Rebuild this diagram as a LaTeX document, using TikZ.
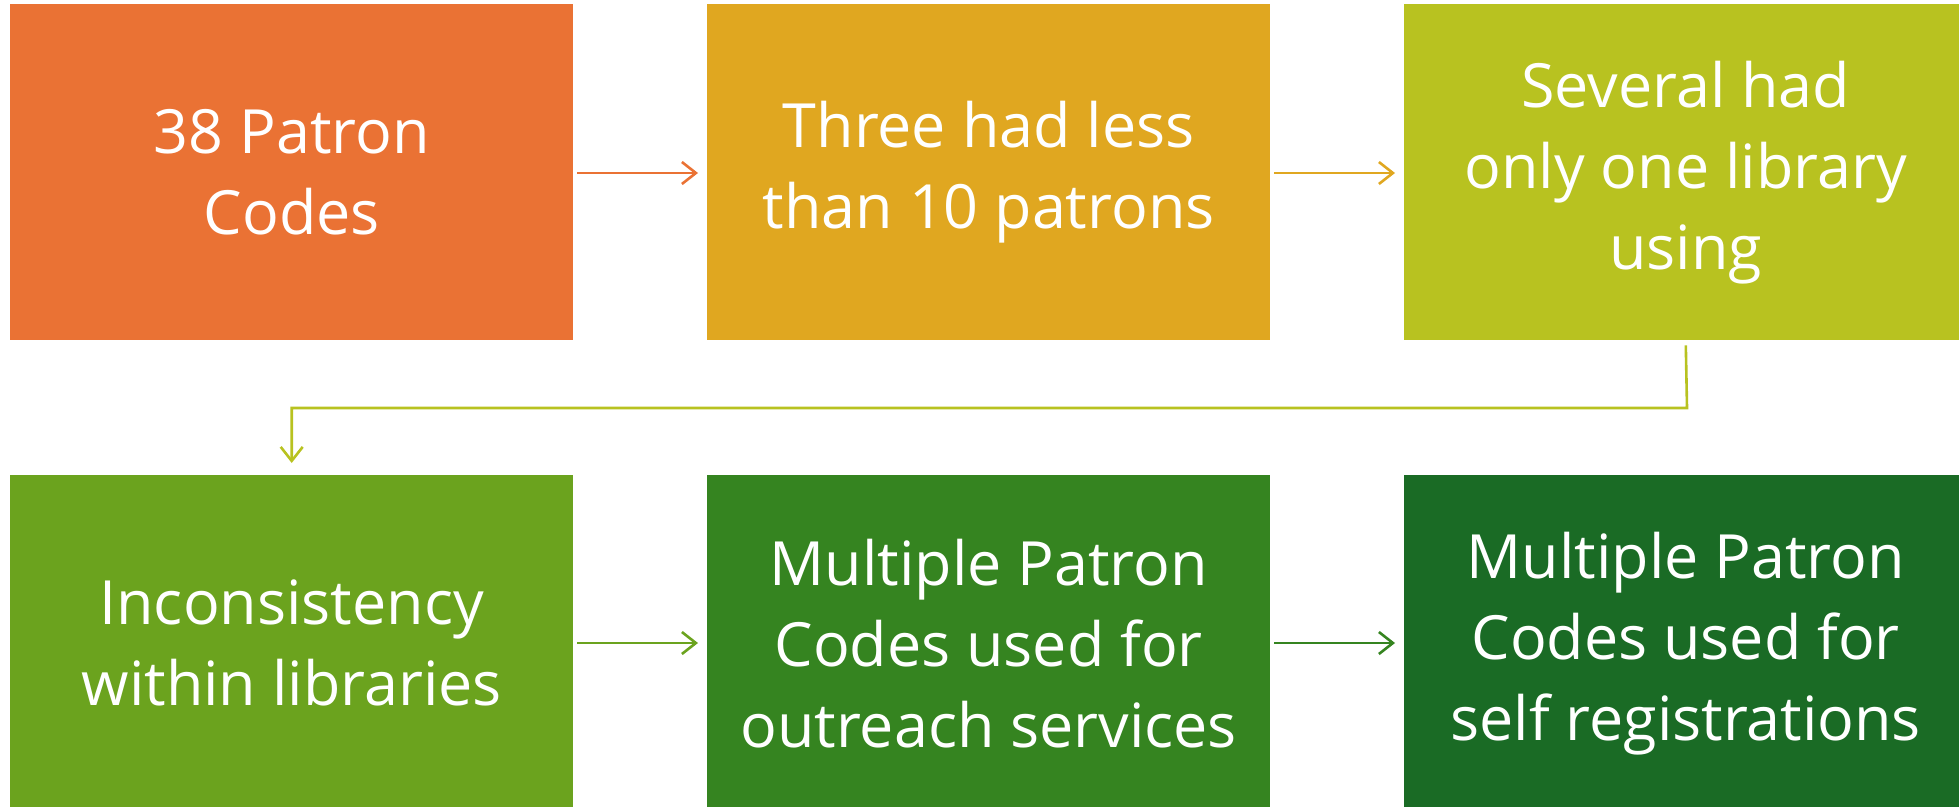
\documentclass[tikz,border=0pt]{standalone}
\usepackage{fontspec}
\setmainfont{Open Sans}
\usetikzlibrary{arrows.meta}
\definecolor{cA}{HTML}{EA7234}
\definecolor{cB}{HTML}{E0A720}
\definecolor{cC}{HTML}{B8C220}
\definecolor{cD}{HTML}{6BA31E}
\definecolor{cE}{HTML}{358420}
\definecolor{cF}{HTML}{1A6B25}
\tikzset{
  box/.style={fill=#1, draw=none, minimum width=563pt, minimum height=336pt, inner sep=0pt,
    text=white, align=center, font=\fontsize{61}{81}\selectfont, anchor=north west},
  conn/.style={draw=#1, line width=2.6pt, -{Straight Barb[length=14pt,width=22pt,line width=2.6pt]}},
}
\begin{document}
\begin{tikzpicture}[x=1pt,y=-1pt]
\useasboundingbox (0,0) rectangle (1959,806);
\clip (0,0) rectangle (1959,806);
\node[box=cA] (b1) at (10,4) {38 Patron\\Codes};
\node[box=cB] (b2) at (707,4) {Three had less\\than 10 patrons};
\node[box=cC] (b3) at (1404,4) {Several had\\only one library\\using};
\node[box=cD] (b4) at (10,475) {Inconsistency\\within libraries};
\node[box=cE] (b5) at (707,475) {Multiple Patron\\Codes used for\\outreach services};
\node[box=cF] (b6) at (1404,475) {Multiple Patron\\Codes used for\\self registrations};
\draw[conn=cA, shorten <=4pt, shorten >=9pt] (b1.east |- 0,173) -- (b2.west |- 0,173);
\draw[conn=cB, shorten <=4pt, shorten >=9pt] (b2.east |- 0,173) -- (b3.west |- 0,173);
\coordinate (elb) at (1687,408);
\draw[conn=cC, shorten <=5pt, shorten >=12pt] (b3.south) -- (elb) -| (b4.north);
\draw[conn=cD, shorten <=4pt, shorten >=9pt] (b4.east |- 0,643) -- (b5.west |- 0,643);
\draw[conn=cE, shorten <=4pt, shorten >=9pt] (b5.east |- 0,643) -- (b6.west |- 0,643);
\end{tikzpicture}
\end{document}
